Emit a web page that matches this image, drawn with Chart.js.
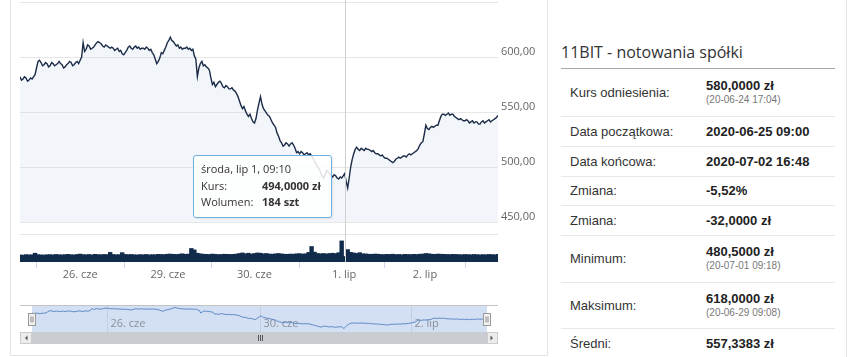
<!DOCTYPE html>
<html><head><meta charset="utf-8">
<script src="https://cdn.jsdelivr.net/npm/chart.js@4.4.1/dist/chart.umd.min.js"></script>
<style>
html,body{margin:0;padding:0;background:#fff;width:848px;height:357px;overflow:hidden;font-family:'Liberation Sans',Arial,sans-serif;}
#card{position:absolute;left:10px;top:-5px;width:538px;height:361px;border:1px solid #e4e4e4;box-sizing:border-box;}
#side{position:absolute;left:553px;top:-5px;width:294px;height:370px;border-right:1px solid #e4e4e4;box-sizing:border-box;}
.cv{position:absolute;left:0;}
#cross{position:absolute;width:1px;background:#cfcfcf;top:0;}
#tip{position:absolute;width:139px;height:63px;box-sizing:border-box;border:1px solid #6fb0dd;border-radius:3px;background:rgba(255,255,255,0.86);font-family:'Open Sans',sans-serif;font-size:11px;color:#333;box-shadow:1px 1px 2px rgba(0,0,0,0.08);}
#tip div{position:absolute;white-space:nowrap;line-height:14px;}
#title{position:absolute;left:561px;top:41px;font-family:'Open Sans',sans-serif;font-size:16px;color:#333;line-height:22px;white-space:nowrap;}
#rule{position:absolute;left:561px;top:68px;width:274px;height:1px;background:#a9a9a9;}
table{position:absolute;left:561px;top:69px;width:274px;border-collapse:collapse;font-size:13px;color:#333;}
td{padding:0;vertical-align:middle;border-bottom:1px solid #e8e8e8;}
td.l{padding-left:9px;width:136px;}
td.v{font-weight:bold;color:#222;line-height:15px;}
td.v small{display:block;font-weight:normal;font-size:10px;color:#777;line-height:14px;}
</style></head>
<body>
<div id="card"></div>
<div id="side"></div>
<div class="cv" style="top:0"><canvas id="cMain" width="560" height="228"></canvas></div>
<div class="cv" style="top:228px"><canvas id="cVol" width="560" height="60"></canvas></div>
<div class="cv" style="top:300px"><canvas id="cNav" width="560" height="50"></canvas></div>
<div id="cross"></div>
<div id="tip"></div>
<div id="title">11BIT - notowania spółki</div>
<div id="rule"></div>
<table id="tbl"></table>
<script>
// ---- data: price sampled twice per volume bar (ordinal trading-time position = index/2) ----
const price = [
582,579,580,582,581,578,579,581,580,582,584,590,596,597,595,592,593,595,594,591,
592,595,594,592,593,594,596,594,593,590,591,593,594,596,595,592,593,595,596,594,
597,600,613,605,607,611,610,607,608,609,611,613,614,613,612,610,609,611,610,609,
608,609,608,606,607,608,605,606,603,602,604,606,609,610,608,607,609,610,608,609,
607,608,608,607,609,608,606,607,604,602,598,594,596,599,604,603,606,609,613,615,
618,615,614,612,610,611,608,609,607,608,608,609,607,608,606,607,601,598,582,590,
594,596,592,593,591,590,588,581,575,577,573,575,577,578,576,573,572,574,573,571,
571,572,570,569,567,564,560,556,553,555,551,548,546,548,544,541,540,544,552,558,
564,557,553,551,549,547,546,543,540,538,536,531,528,524,522,519,520,522,521,519,
521,522,520,517,513,514,512,514,513,511,512,513,511,512,510,508,505,503,500,498,
495,492,490,493,497,495,494,492,491,493,492,490,489,491,490,492,494,487,481,490,
500,507,512,516,518,516,515,517,516,515,517,516,516,515,514,515,513,512,512,511,
510,511,509,508,508,507,506,505,504,505,507,508,509,508,509,510,510,509,511,512,
511,512,513,514,515,517,520,522,523,530,538,535,534,536,537,536,537,538,538,542,
546,548,548,547,548,549,547,548,548,546,545,544,543,544,543,542,542,543,542,540,
541,542,540,541,541,539,539,541,542,540,541,542,543,541,542,543,544,545,547];
const volume = [
240,230,250,240,245,300,250,240,235,245,
250,240,255,245,240,250,260,245,240,255,
270,250,245,255,240,260,250,245,255,250,
330,255,245,250,320,255,250,255,245,240,
250,245,255,240,250,245,260,255,250,265,
270,260,255,265,280,260,270,470,420,300,
280,265,260,255,270,260,250,255,265,260,
255,260,270,290,310,280,300,270,290,310,
300,280,290,270,265,280,290,275,265,260,
270,265,280,285,270,280,330,540,340,290,
280,290,275,290,300,285,320,740,184,430,
330,310,290,320,280,275,265,260,270,265,
255,250,260,255,265,250,255,245,260,255,
250,260,255,265,270,290,280,265,260,270,
265,260,255,250,260,255,250,245,255,250,
245,255,250,240,250,245,255,250,245,260];
const dayLabels = ['26. cze','29. cze','30. cze','1. lip','2. lip'];
const dayTicks = [20, 49.2, 78, 107.8, 134.7];
const navLabels = ['26. cze','30. cze','2. lip'];
const navTicks = [26.2, 79.5, 132.4];
const priceTicks = [450,500,550,600,650];
const hoverX = 108;
const hoverLabel = 'środa, lip 1, 09:10';
const tableRows = [
  ['Kurs odniesienia:','580,0000 zł','(20-06-24 17:04)'],
  ['Data początkowa:','2020-06-25 09:00',''],
  ['Data końcowa:','2020-07-02 16:48',''],
  ['Zmiana:','-5,52%',''],
  ['Zmiana:','-32,0000 zł',''],
  ['Minimum:','480,5000 zł','(20-07-01 09:18)'],
  ['Maksimum:','618,0000 zł','(20-06-29 09:08)'],
  ['Średni:','557,3383 zł','']
];
const rowHeights = [47,30,30,29,30,47,46,30];

const fmt2 = v => v.toFixed(2).replace('.',',');
const fmt4 = v => v.toFixed(4).replace('.',',');
const XMAX = volume.length-1;
const pricePts = price.map((v,i)=>({x:i/2,y:v}));
const FONT = {family:'Open Sans', size:11};

// table
const tbl = document.getElementById('tbl');
tableRows.forEach((r,i)=>{
  const tr = document.createElement('tr');
  tr.style.height = rowHeights[i]+'px';
  tr.innerHTML = '<td class="l">'+r[0]+'</td><td class="v">'+r[1]+(r[2]?'<small>'+r[2]+'</small>':'')+'</td>';
  tbl.appendChild(tr);
});

const overlay = {
  id:'overlay',
  afterRender(chart){
    const hp = price[hoverX*2];
    const px = chart.scales.x.getPixelForValue(hoverX);
    const py = chart.scales.y.getPixelForValue(hp);
    const cr = document.getElementById('cross');
    cr.style.left = Math.round(px)+'px';
    cr.style.height = '262px';
    const tip = document.getElementById('tip');
    tip.style.left = Math.round(px-152)+'px';
    tip.style.top = Math.round(py-19)+'px';
    tip.innerHTML = '<div style="left:7px;top:6px">'+hoverLabel+'</div>'+
      '<div style="left:7px;top:23px">Kurs:</div><div style="left:68px;top:23px;font-weight:bold">'+fmt4(hp)+' zł</div>'+
      '<div style="left:7px;top:39px">Wolumen:</div><div style="left:68px;top:39px;font-weight:bold">'+volume[hoverX]+' szt</div>';
  }
};

new Chart(document.getElementById('cMain'), {
  type:'line',
  data:{datasets:[{data:pricePts, borderColor:'#1b2c48', borderWidth:1.4, pointRadius:0, fill:'start', backgroundColor:'rgba(190,205,225,0.2)', tension:0}]},
  options:{
    responsive:false, animation:false, events:[],
    layout:{padding:{left:20,top:2,right:0,bottom:6}},
    plugins:{legend:{display:false},tooltip:{enabled:false}},
    scales:{
      x:{type:'linear', min:0, max:XMAX, display:false},
      y:{position:'right', min:450, max:650,
        afterBuildTicks:s=>{s.ticks = priceTicks.map(v=>({value:v}));},
        afterFit:s=>{s.width=62; s.paddingTop=0; s.paddingBottom=0;},
        grid:{color:'#e6e6e6', drawTicks:false}, border:{display:false},
        ticks:{padding:3, labelOffset:-5, color:'#666', font:FONT, callback:v=> v===650?'':fmt2(v)}}
    }
  },
  plugins:[overlay]
});

new Chart(document.getElementById('cVol'), {
  type:'bar',
  data:{datasets:[{data:volume.map((v,i)=>({x:i,y:v})), backgroundColor:'#112b4b', barPercentage:1, categoryPercentage:1, borderWidth:0, inflateAmount:0.7}]},
  options:{
    responsive:false, animation:false, events:[],
    layout:{padding:{left:20,top:6,right:62,bottom:0}},
    plugins:{legend:{display:false},tooltip:{enabled:false}},
    scales:{
      x:{type:'linear', min:0, max:XMAX, offset:false,
        afterBuildTicks:s=>{s.ticks = dayTicks.map(v=>({value:v}));},
        afterFit:s=>{s.height=26;},
        grid:{drawOnChartArea:false, tickLength:6, tickColor:'#ccd6eb'}, border:{display:false},
        ticks:{autoSkip:false, maxRotation:0, padding:0, color:'#666', font:FONT, callback:(v,i)=>dayLabels[i]}},
      y:{min:0, max:1000, position:'right',
        afterBuildTicks:s=>{s.ticks=[{value:1000}];},
        afterFit:s=>{s.width=0; s.paddingTop=0; s.paddingBottom=0;},
        grid:{color:'#e6e6e6', drawTicks:false}, border:{display:false}, ticks:{display:false}}
    }
  }
});

const navDeco = {
  id:'navDeco',
  beforeDatasetsDraw(chart){
    const {ctx, chartArea:a, scales:{x}} = chart;
    ctx.save();
    ctx.fillStyle = '#d3e0f3';
    ctx.fillRect(a.left, a.top, a.right-a.left, a.bottom-a.top);
    ctx.strokeStyle = 'rgba(0,0,0,0.07)';
    ctx.lineWidth = 1;
    ctx.font = "11px 'Open Sans'";
    ctx.fillStyle = '#8a8f98';
    ctx.textBaseline = 'middle';
    navTicks.forEach((t,i)=>{
      const px = Math.round(x.getPixelForValue(t))+0.5;
      ctx.beginPath(); ctx.moveTo(px,a.top); ctx.lineTo(px,a.bottom); ctx.stroke();
      ctx.fillText(navLabels[i], px+3, a.bottom-8);
    });
    ctx.restore();
  },
  afterDraw(chart){
    const {ctx, chartArea:a} = chart;
    const L = 20, R = 498;
    ctx.save();
    ctx.strokeStyle = '#c4c4c4'; ctx.lineWidth = 1;
    ctx.beginPath(); ctx.moveTo(L, a.top-0.5); ctx.lineTo(R, a.top-0.5); ctx.stroke();
    const sy = a.bottom, sh = 12;
    ctx.fillStyle = '#eeeeee'; ctx.fillRect(L, sy, R-L, sh);
    ctx.fillStyle = '#c9ccd1'; ctx.fillRect(a.left, sy, a.right-a.left, sh);
    ctx.fillStyle = '#ececec'; ctx.strokeStyle = '#cccccc';
    ctx.fillRect(L, sy, a.left-L, sh); ctx.strokeRect(L+0.5, sy+0.5, a.left-L-1, sh-1);
    ctx.fillRect(a.right, sy, R-a.right, sh); ctx.strokeRect(a.right+0.5, sy+0.5, R-a.right-1, sh-1);
    ctx.fillStyle = '#555';
    const cy = sy + sh/2;
    ctx.beginPath(); ctx.moveTo(L+5, cy); ctx.lineTo(L+7.5, cy-2.5); ctx.lineTo(L+7.5, cy+2.5); ctx.fill();
    ctx.beginPath(); ctx.moveTo(R-5, cy); ctx.lineTo(R-7.5, cy-2.5); ctx.lineTo(R-7.5, cy+2.5); ctx.fill();
    const gx = Math.round((a.left+a.right)/2);
    ctx.strokeStyle = '#555';
    [-2,0,2].forEach(d=>{ctx.beginPath(); ctx.moveTo(gx+d+0.5, cy-3); ctx.lineTo(gx+d+0.5, cy+3); ctx.stroke();});
    [a.left, a.right].forEach(hx=>{
      const x0 = Math.round(hx-4)+0.5, y0 = Math.round((a.top+a.bottom)/2-6)+0.5;
      ctx.fillStyle = '#f2f2f2'; ctx.strokeStyle = '#999';
      ctx.fillRect(x0, y0, 7, 12); ctx.strokeRect(x0, y0, 7, 12);
      ctx.strokeStyle = '#888';
      [2.5,4.5].forEach(d=>{ctx.beginPath(); ctx.moveTo(x0+d, y0+3); ctx.lineTo(x0+d, y0+9); ctx.stroke();});
    });
    ctx.restore();
  }
};

new Chart(document.getElementById('cNav'), {
  type:'line',
  data:{datasets:[{data:pricePts, borderColor:'#5b87c5', borderWidth:1, pointRadius:0, fill:false, tension:0}]},
  options:{
    responsive:false, animation:false, events:[],
    layout:{padding:{left:32,top:6,right:73,bottom:18}},
    plugins:{legend:{display:false},tooltip:{enabled:false}},
    scales:{
      x:{type:'linear', min:0, max:XMAX, display:false},
      y:{min:458, max:628, display:false}
    }
  },
  plugins:[navDeco]
});
</script>
</body></html>
